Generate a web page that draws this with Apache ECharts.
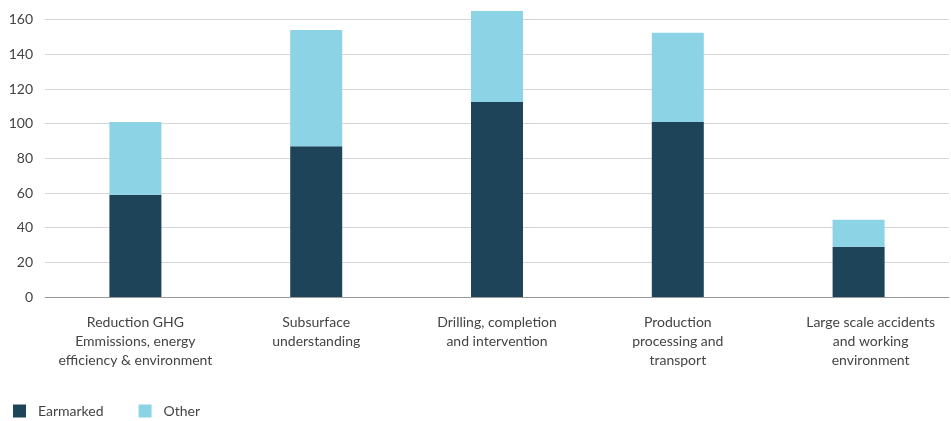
<!DOCTYPE html>
<html>
<head>
<meta charset="utf-8">
<style>
  html, body { margin: 0; padding: 0; background: #fff; }
  #main { width: 951px; height: 421px; }
</style>
<script src="https://cdn.jsdelivr.net/npm/echarts@6/dist/echarts.min.js"></script>
</head>
<body>
<div id="main"></div>
<script>
  // categories (line breaks as in the original)
  var categories = [
    'Reduction GHG\nEmmissions, energy\nefficiency & environment',
    'Subsurface\nunderstanding',
    'Drilling, completion\nand intervention',
    'Production\nprocessing and\ntransport',
    'Large scale accidents\nand working\nenvironment'
  ];
  // stacked segment values
  var earmarked = [59, 87, 112.5, 101, 29];
  var other = [42, 67, 53, 51.5, 15.5];

  var myChart = echarts.init(document.getElementById('main'));
  myChart.setOption({
    animation: false,
    textStyle: { fontFamily: 'Lato' },
    legend: {
      left: 8,
      top: 399,
      itemWidth: 13,
      itemHeight: 13,
      itemGap: 35,
      icon: 'rect',
      textStyle: { color: '#444', fontSize: 14, padding: [0, 0, 0, 7] },
      data: ['Earmarked', 'Other']
    },
    grid: {
      left: 45,
      right: 2,
      top: 11,
      bottom: 124
    },
    xAxis: {
      type: 'category',
      data: categories.map(function (c, i) {
        // last label sits slightly right of its bar in the original
        return i === 4 ? { value: c, textStyle: { padding: [0, 0, 0, 24] } } : c;
      }),
      axisLine: { lineStyle: { color: '#9a9a9a' } },
      axisTick: { show: false },
      axisLabel: {
        interval: 0,
        color: '#444',
        fontSize: 14,
        lineHeight: 19,
        margin: 16
      }
    },
    yAxis: {
      type: 'value',
      min: 0,
      max: 165,
      interval: 20,
      axisLine: { show: false },
      axisTick: { show: false },
      splitLine: { showMaxLine: false, lineStyle: { color: '#d6d6d6' } },
      axisLabel: { color: '#444', fontSize: 14, margin: 12, showMaxLabel: false }
    },
    series: [{
      name: 'Earmarked',
      type: 'bar',
      stack: 'total',
      barWidth: 52,
      itemStyle: { color: '#1e4459' },
      data: earmarked
    }, {
      name: 'Other',
      type: 'bar',
      stack: 'total',
      barWidth: 52,
      itemStyle: { color: '#8cd3e6' },
      data: other
    }]
  });
</script>
</body>
</html>
